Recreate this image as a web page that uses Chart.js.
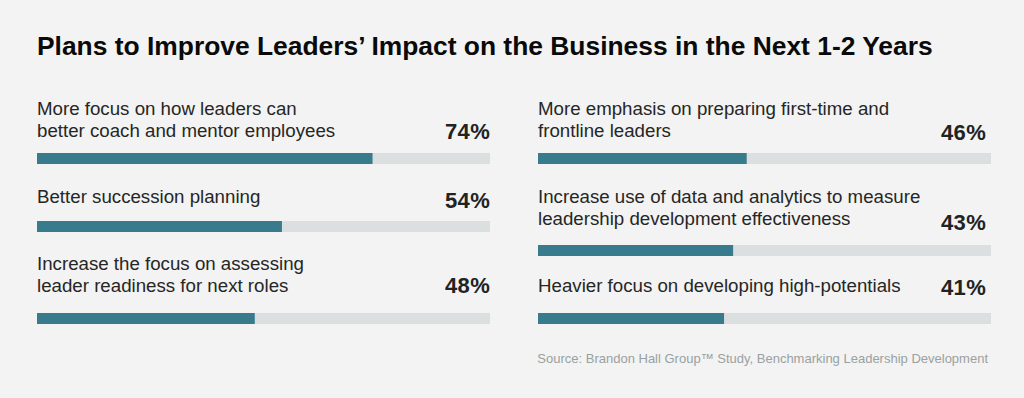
<!DOCTYPE html>
<html>
<head>
<meta charset="utf-8">
<script src="https://cdn.jsdelivr.net/npm/chart.js@4"></script>
<style>
  html, body { margin: 0; padding: 0; }
  body { width: 1024px; height: 398px; background: #f2f3f2; position: relative; overflow: hidden;
         font-family: "Liberation Sans", Arial, Helvetica, sans-serif; }
  .abs { position: absolute; white-space: nowrap; }
  .title { left: 37px; top: 34px; font-size: 26.4px; line-height: 25px; font-weight: bold; color: #0a0a0a; }
  .label { font-size: 18.7px; line-height: 21.5px; color: #262626; }
  .pct { font-size: 22px; line-height: 21px; font-weight: bold; color: #222; text-align: right; width: 80px; letter-spacing: 0.3px; }
  .bar { position: absolute; }
  .source { right: 36px; top: 352px; font-size: 13px; line-height: 13px; color: #9aa1a1; }
</style>
</head>
<body>
<div class="abs title">Plans to Improve Leaders’ Impact on the Business in the Next 1-2 Years</div>
<div class="abs source">Source: Brandon Hall Group™ Study, Benchmarking Leadership Development</div>

<script>
// data
var categories = [
  ["More focus on how leaders can", "better coach and mentor employees"],
  ["Better succession planning"],
  ["Increase the focus on assessing", "leader readiness for next roles"],
  ["More emphasis on preparing first-time and", "frontline leaders"],
  ["Increase use of data and analytics to measure", "leadership development effectiveness"],
  ["Heavier focus on developing high-potentials"]
];
var values = [74, 54, 48, 46, 43, 41];
var scaleMax = 100;

var fillColor = "#377b8c";
var trackColor = "#dcdfdf";

// where each item sits on the page
var slots = [
  { x: 37,  w: 453, labelTop: 98,  pctTop: 121, barTop: 153 },
  { x: 37,  w: 453, labelTop: 186, pctTop: 190, barTop: 221 },
  { x: 37,  w: 453, labelTop: 253, pctTop: 275, barTop: 313 },
  { x: 538, w: 453, labelTop: 98,  pctTop: 122, barTop: 153 },
  { x: 538, w: 453, labelTop: 186, pctTop: 212, barTop: 245 },
  { x: 538, w: 453, labelTop: 275, pctTop: 277, barTop: 313 }
];

categories.forEach(function(lines, i) {
  var s = slots[i];

  var lab = document.createElement("div");
  lab.className = "abs label";
  lab.style.left = s.x + "px";
  lab.style.top = s.labelTop + "px";
  lab.innerHTML = lines.join("<br>");
  document.body.appendChild(lab);

  var pct = document.createElement("div");
  pct.className = "abs pct";
  var right = s.x < 500 ? 490 : 986;
  pct.style.left = (right - 80) + "px";
  pct.style.top = s.pctTop + "px";
  pct.textContent = values[i] + "%";
  document.body.appendChild(pct);

  var box = document.createElement("div");
  box.className = "bar";
  box.style.left = s.x + "px";
  box.style.top = s.barTop + "px";
  box.style.width = s.w + "px";
  box.style.height = "11px";
  var cv = document.createElement("canvas");
  box.appendChild(cv);
  document.body.appendChild(box);

  new Chart(cv, {
    type: "bar",
    data: {
      labels: [lines.join(" ")],
      datasets: [
        { data: [values[i]], backgroundColor: fillColor, order: 0, grouped: false,
          categoryPercentage: 1, barPercentage: 1, borderWidth: 0 },
        { data: [scaleMax], backgroundColor: trackColor, order: 1, grouped: false,
          categoryPercentage: 1, barPercentage: 1, borderWidth: 0 }
      ]
    },
    options: {
      indexAxis: "y",
      responsive: true,
      maintainAspectRatio: false,
      animation: false,
      layout: { padding: 0 },
      plugins: { legend: { display: false }, tooltip: { enabled: false } },
      scales: {
        x: { display: false, min: 0, max: scaleMax },
        y: { display: false }
      }
    }
  });
});
</script>
</body>
</html>
